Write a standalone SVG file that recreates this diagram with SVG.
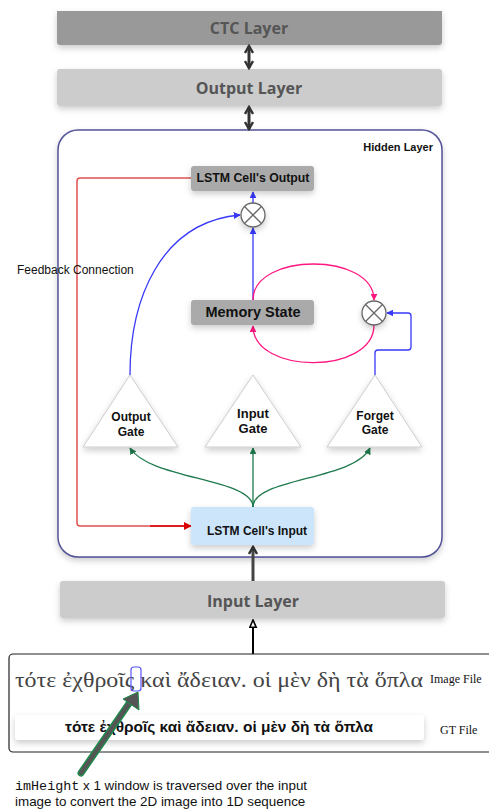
<svg xmlns="http://www.w3.org/2000/svg" width="489" height="810" viewBox="0 0 489 810">
<style>
.lay{font-family:"Open Sans","Liberation Sans",sans-serif;font-weight:bold;font-size:16px;fill:#555;text-anchor:middle}
.b{font-family:"Liberation Sans",Arial,sans-serif;font-weight:bold;fill:#111;text-anchor:middle}
.blue{stroke:#3838f8;stroke-width:1.3;fill:none}
.pink{stroke:#ff1680;stroke-width:1.3;fill:none}
.green{stroke:#1e7a4c;stroke-width:1.3;fill:none}
.tri{fill:#fff;stroke:#ccc;stroke-width:1;filter:url(#sh)}
.circ{fill:#fff;stroke:#666;stroke-width:1.3;filter:url(#sh)}
.serif{font-family:"Liberation Serif","DejaVu Serif",serif}
</style>
<defs>
<filter id="sh" x="-20%" y="-20%" width="140%" height="160%">
<feDropShadow dx="0" dy="3" stdDeviation="3" flood-color="#000" flood-opacity="0.2"/>
</filter>
<marker id="ab" viewBox="0 0 10 10" refX="9" refY="5" markerWidth="7" markerHeight="7" orient="auto-start-reverse" markerUnits="userSpaceOnUse"><path d="M0,0 L10,5 L0,10 z" fill="#3838f8"/></marker>
<marker id="ap" viewBox="0 0 10 10" refX="9" refY="5" markerWidth="7" markerHeight="7" orient="auto-start-reverse" markerUnits="userSpaceOnUse"><path d="M0,0 L10,5 L0,10 z" fill="#ff1680"/></marker>
<marker id="ag" viewBox="0 0 10 10" refX="9" refY="5" markerWidth="7" markerHeight="7" orient="auto-start-reverse" markerUnits="userSpaceOnUse"><path d="M0,0 L10,5 L0,10 z" fill="#1e7a4c"/></marker>
<marker id="ar" viewBox="0 0 10 10" refX="9" refY="5" markerWidth="8" markerHeight="8" orient="auto-start-reverse" markerUnits="userSpaceOnUse"><path d="M0,0 L10,5 L0,10 z" fill="#d00"/></marker>
<marker id="ad" viewBox="0 0 10 10" refX="8" refY="5" markerWidth="10" markerHeight="10" orient="auto-start-reverse" markerUnits="userSpaceOnUse"><path d="M1,1 L8,5 L1,9" fill="none" stroke="#333" stroke-width="2.4"/></marker>
<marker id="ak" viewBox="0 0 10 10" refX="9" refY="5" markerWidth="9" markerHeight="9" orient="auto-start-reverse" markerUnits="userSpaceOnUse"><path d="M1,1.5 L9,5 L1,8.5 z" fill="#fff" stroke="#000" stroke-width="1.8"/></marker>
</defs>

<g id="ctc-layer">
<path d="M57,11 H442 V42 a3,3 0 0 1 -3,3 H60 a3,3 0 0 1 -3,-3 Z" fill="#999" filter="url(#sh)"/>
<text class="lay" x="249" y="34">CTC Layer</text>
</g>
<g id="output-layer">
<rect x="57" y="69" width="385" height="37" rx="3" fill="#ccc" filter="url(#sh)"/>
<text class="lay" x="249" y="94">Output Layer</text>
</g>
<g id="hidden-layer">
<rect x="58" y="130" width="384" height="427" rx="20" fill="#fff" stroke="#2a2a80" stroke-opacity="0.8" stroke-width="1.5" filter="url(#sh)"/>
<text class="b" x="433" y="151" font-size="11" style="text-anchor:end">Hidden Layer</text>
</g>
<g id="input-layer">
<rect x="60" y="581" width="385" height="37" rx="3" fill="#ccc" filter="url(#sh)"/>
<text class="lay" x="253" y="607">Input Layer</text>
</g>

<g id="connectors">
<line x1="249" y1="46" x2="249" y2="68" stroke="#333" stroke-width="3" marker-start="url(#ad)" marker-end="url(#ad)"/>
<line x1="249" y1="107" x2="249" y2="129" stroke="#333" stroke-width="3" marker-start="url(#ad)" marker-end="url(#ad)"/>
<path d="M191,178 H80 a3,3 0 0 0 -3,3 V523 a3,3 0 0 0 3,3 H191" fill="none" stroke="#e05050" stroke-width="1.5"/>
<path d="M150,526 H191" fill="none" stroke="#d00" stroke-width="1.5" marker-end="url(#ar)"/>
<line x1="253" y1="203" x2="253" y2="192" class="blue" marker-end="url(#ab)"/>
<line x1="253" y1="300" x2="253" y2="228" class="blue" marker-end="url(#ab)"/>
<path d="M130,375 C130,300 160,222 240,215" class="blue" marker-end="url(#ab)"/>
<path d="M375,375 V353 a3,3 0 0 1 3,-3 H408 a3,3 0 0 0 3,-3 V316 a3,3 0 0 0 -3,-3 H387" class="blue" marker-end="url(#ab)"/>
<path d="M253,300 C253,252 374,252 374,300" class="pink" marker-end="url(#ap)"/>
<path d="M374,325 C374,375 253,375 253,326" class="pink" marker-end="url(#ap)"/>
<path d="M253,507 C253,478 150,480 130,448" class="green" marker-end="url(#ag)"/>
<path d="M253,507 V448" class="green" marker-end="url(#ag)"/>
<path d="M253,507 C253,478 355,480 370,448" class="green" marker-end="url(#ag)"/>
<line x1="253" y1="581" x2="253" y2="547" stroke="#444" stroke-width="3" marker-end="url(#ad)"/>
<line x1="253" y1="655" x2="253" y2="620" stroke="#000" stroke-width="2" marker-end="url(#ak)"/>
</g>

<g id="lstm-output">
<rect x="191" y="166" width="123" height="25" rx="3" fill="#aaa" filter="url(#sh)"/>
<text class="b" x="253" y="182" font-size="12.3">LSTM Cell's Output</text>
</g>
<g id="mult-out">
<circle cx="253" cy="215" r="12" class="circ"/>
<path d="M244.5,206.5 L261.5,223.5 M261.5,206.5 L244.5,223.5" stroke="#666" stroke-width="1.3"/>
</g>
<g id="memory-state">
<rect x="191" y="300" width="123" height="25" rx="3" fill="#aaa" filter="url(#sh)"/>
<text class="b" x="253" y="317" font-size="14.5">Memory State</text>
</g>
<g id="mult-forget">
<circle cx="374" cy="313" r="12" class="circ"/>
<path d="M365.5,304.5 L382.5,321.5 M382.5,304.5 L365.5,321.5" stroke="#666" stroke-width="1.3"/>
</g>
<g id="output-gate">
<path d="M130,375 L178,447 L83,447 Z" class="tri"/>
<text class="b" font-size="12" x="131" y="421">Output</text>
<text class="b" font-size="12" x="131" y="436">Gate</text>
</g>
<g id="input-gate">
<path d="M253,375 L301,447 L205,447 Z" class="tri"/>
<text class="b" font-size="13" x="253" y="418">Input</text>
<text class="b" font-size="13" x="253" y="433">Gate</text>
</g>
<g id="forget-gate">
<path d="M375,375 L422,447 L327,447 Z" class="tri"/>
<text class="b" font-size="12" x="375" y="420">Forget</text>
<text class="b" font-size="12" x="375" y="434">Gate</text>
</g>
<g id="lstm-input">
<rect x="191" y="507" width="123" height="38" rx="3" fill="#cce5fb" filter="url(#sh)"/>
<text class="b" x="257" y="535" font-size="12">LSTM Cell's Input</text>
</g>
<g id="feedback-label">
<text x="17" y="274" font-family="Liberation Sans,Arial,sans-serif" font-size="12" fill="#111">Feedback Connection</text>
</g>

<g id="input-files">
<rect x="9" y="654" width="490" height="98" rx="4" fill="#fff" stroke="#222" stroke-width="1.2"/>
<text class="serif" x="15" y="687" font-size="21" fill="#444" textLength="408" lengthAdjust="spacingAndGlyphs">τότε ἐχθροῖς καὶ ἄδειαν. οἱ μὲν δὴ τὰ ὅπλα</text>
<text class="serif" x="430" y="683" font-size="12" fill="#111">Image File</text>
<rect x="15" y="715" width="409" height="25" rx="3" fill="#fff" filter="url(#sh)"/>
<text x="219" y="732" font-family="Liberation Sans,Arial,sans-serif" font-weight="bold" font-size="15" fill="#111" text-anchor="middle" textLength="308" lengthAdjust="spacingAndGlyphs">τότε ἐχθροῖς καὶ ἄδειαν. οἱ μὲν δὴ τὰ ὅπλα</text>
<text class="serif" x="440" y="734" font-size="12" fill="#111">GT File</text>
<rect x="131" y="667" width="10" height="24" rx="3" fill="none" stroke="#5555ff" stroke-width="1.2"/>
</g>
<g id="window-arrow">
<line x1="81" y1="773" x2="130" y2="702" stroke="#1e8a4c" stroke-width="7" stroke-linecap="round"/>
<line x1="81" y1="773" x2="130" y2="702" stroke="#555" stroke-width="4" stroke-linecap="round"/>
<path d="M138,692 L139,710 L123,699 Z" fill="#555" stroke="#1e8a4c" stroke-width="1" stroke-linejoin="round"/>
</g>
<g id="caption">
<text x="15" y="790" font-size="13.4" fill="#111" font-family="Liberation Sans,Arial,sans-serif"><tspan font-family="Liberation Mono,monospace">imHeight</tspan> x 1 window is traversed over the input</text>
<text x="15" y="806" font-size="13.4" fill="#111" font-family="Liberation Sans,Arial,sans-serif">image to convert the 2D image into 1D sequence</text>
</g>
</svg>
